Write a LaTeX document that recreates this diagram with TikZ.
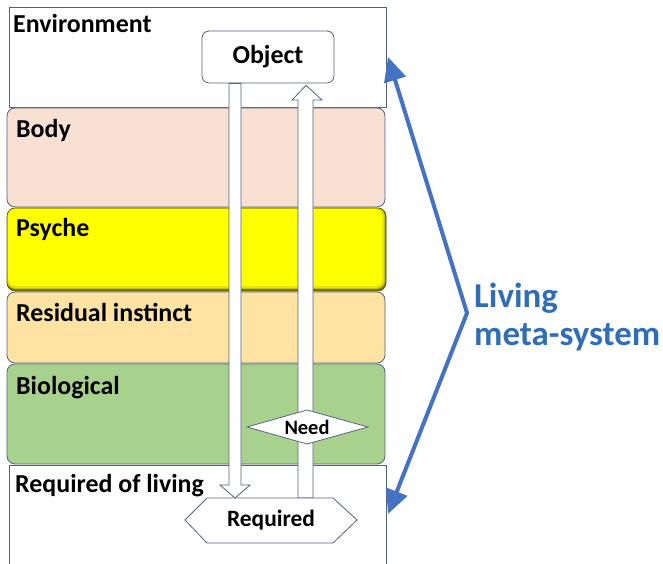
\documentclass[tikz,border=0pt]{standalone}
\usepackage{fontspec}
\setmainfont{Carlito}
\usetikzlibrary{arrows.meta,calc}
\definecolor{bodyc}{HTML}{F8E0D3}
\definecolor{psyc}{HTML}{FFFF00}
\definecolor{resc}{HTML}{FEE3A3}
\definecolor{bioc}{HTML}{A9D18E}
\definecolor{edgec}{HTML}{55637A}
\definecolor{bluec}{HTML}{4472C4}
\definecolor{bluet}{HTML}{2F6EB5}
\tikzset{
  layer/.style={draw=edgec, line width=0.8bp, rounded corners=8bp},
  lbl/.style={anchor=base west, inner sep=0pt, font=\fontsize{26}{30}\selectfont\bfseries},
  hollow/.style={draw=edgec, fill=white, line width=0.8bp, line join=miter},
}
\begin{document}
\begin{tikzpicture}[x=1bp,y=-1bp]
\useasboundingbox (0,0) rectangle (663,564);
% layers
\draw[draw=edgec, line width=0.8bp, fill=white] (9,7) rectangle (386,107);
\node[lbl] (env) at (13,33) {Environment};
\draw[layer, fill=bodyc] (7,108) rectangle (385,207);
\node[lbl] (body) at (16,138) {Body};
% psyche with bevel
\fill[rounded corners=8bp, fill=psyc!45!black] (7,208) rectangle (386,291);
\fill[rounded corners=8bp, fill=psyc!75!black] (7,208) rectangle (385,289);
\fill[rounded corners=8bp, fill=psyc!90!black] (7,208) rectangle (384,288);
\fill[rounded corners=8bp, fill=psyc] (8,209) rectangle (382,286);
\draw[rounded corners=8bp, draw=psyc!35!black, line width=0.6bp] (7,208) rectangle (386,291);
\node[lbl] (psy) at (16,236) {Psyche};
\draw[layer, fill=resc] (7,292) rectangle (385,363);
\node[lbl] (res) at (16,321) {Residual instinct};
\draw[layer, fill=bioc] (7,364) rectangle (385,464);
\node[lbl] (bio) at (16,394) {Biological};
\draw[draw=edgec, line width=0.8bp, fill=white] (9,564) -- (9,465) -- (386,465) -- (386,564);
\node[lbl] (req) at (15,492) {Required of living};
% object and required nodes
\node[draw=edgec, fill=white, line width=0.8bp, rounded corners=7bp, minimum width=132bp, minimum height=52bp, font=\fontsize{26}{30}\selectfont\bfseries] (obj) at (268,57) {Object};
\coordinate (reqc) at (271,520);
% down arrow from Object to Required
\draw[hollow] ($(obj.south)+(-39,0)$) -- ($(obj.south)+(-27,0)$) -- ($(reqc)+(-30,-35)$) -- ($(reqc)+(-21,-35)$) -- ($(reqc)+(-36,-22)$) -- ($(reqc)+(-51,-35)$) -- ($(reqc)+(-42,-35)$) -- cycle;
% up arrow from Required to Object
\draw[hollow] ($(reqc)+(27,-22)$) -- ($(reqc)+(27,-420)$) -- ($(reqc)+(21,-420)$) -- ($(obj.south)+(38,2)$) -- ($(reqc)+(51,-420)$) -- ($(reqc)+(42,-420)$) -- ($(reqc)+(42,-22)$) -- cycle;
% Need diamond
\coordinate (need) at (307,427);
\draw[hollow] ($(need)+(-60,0)$) -- ($(need)+(0,-17)$) -- ($(need)+(61,0)$) -- ($(need)+(0,17)$) -- cycle;
\node[inner sep=0pt, font=\fontsize{20.5}{24}\selectfont\bfseries] (needt) at (need) {Need};
% Required hexagon
\draw[hollow] ($(reqc)+(-86,0)$) -- ($(reqc)+(-64,-22)$) -- ($(reqc)+(62,-22)$) -- ($(reqc)+(86,0)$) -- ($(reqc)+(62,23)$) -- ($(reqc)+(-64,23)$) -- cycle;
\node[inner sep=0pt, font=\fontsize{23.5}{28}\selectfont\bfseries] (reqn) at (reqc) {Required};
% living meta-system
\node[anchor=base west, inner sep=0pt, text=bluet, font=\fontsize{35}{40}\selectfont\bfseries] (liv) at (474,307) {Living};
\node[anchor=base west, inner sep=0pt, text=bluet, font=\fontsize{35}{40}\selectfont\bfseries] (meta) at (474,345) {meta-system};
\coordinate (top) at (388,57);
\coordinate (bend) at (467,313);
\coordinate (bot) at (388,514);
\draw[bluec, line width=4bp, line join=miter, {Triangle[length=24bp,width=22bp]}-{Triangle[length=24bp,width=22bp]}] (top) -- (bend) -- (bot);
\end{tikzpicture}
\end{document}
